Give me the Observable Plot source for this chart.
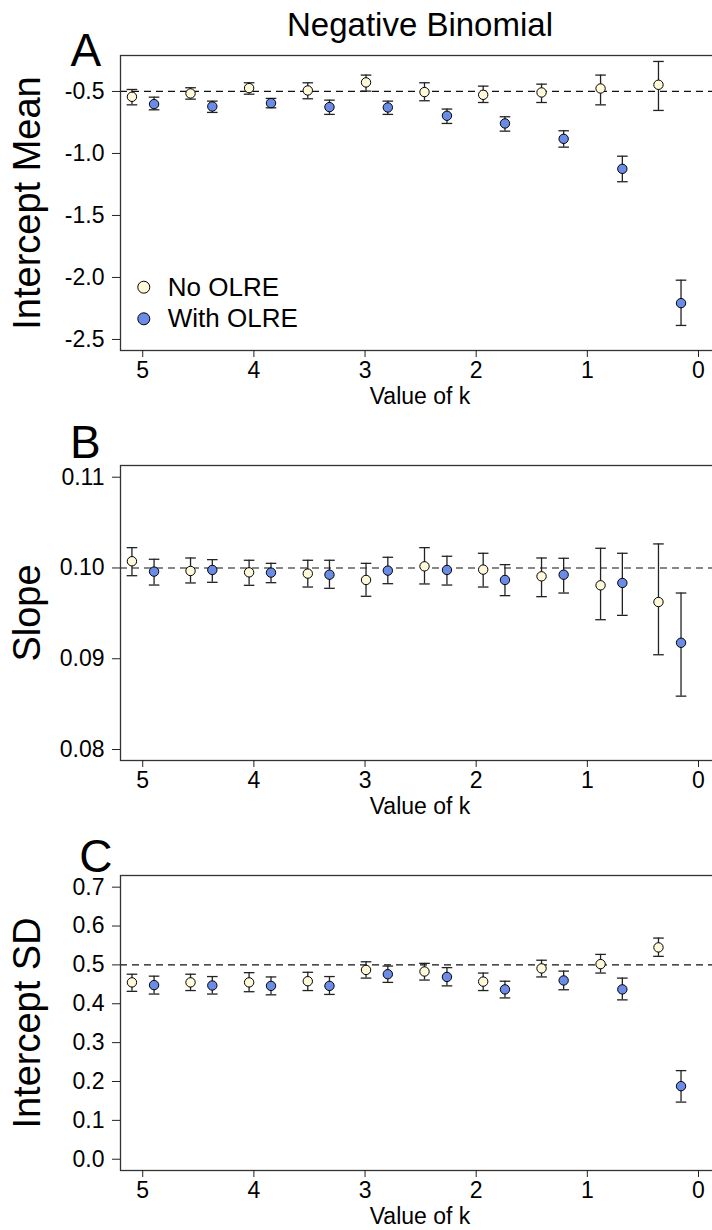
<!DOCTYPE html>
<html><head><meta charset="utf-8">
<script src="https://cdn.jsdelivr.net/npm/d3@7"></script>
<script src="https://cdn.jsdelivr.net/npm/@observablehq/plot@0.6"></script>
<style>
html,body{margin:0;background:#fff;overflow:hidden;}
#wrap{width:712px;height:1230px;overflow:hidden;background:#fff;}
#wrap svg{display:block;max-width:none !important;}
</style></head><body><div id="wrap"></div>
<script>
// ---------- data ----------
const seriesNames = ["No OLRE", "With OLRE"];
const seriesColors = ["#FFF9DA", "#6A8CE8"];
const xTicks = [5, 4, 3, 2, 1, 0];
const xLabel = "Value of k";
const title = "Negative Binomial";

const kNo   = [5.097, 4.570, 4.043, 3.515, 2.991, 2.465, 1.937, 1.412, 0.881, 0.360];
const kWith = [4.898, 4.374, 3.846, 3.320, 2.795, 2.263, 1.741, 1.213, 0.685, 0.157];

// Panel A: Intercept Mean
const aTicks = [-0.5, -1.0, -1.5, -2.0, -2.5];
const aNoMean = [-0.543, -0.516, -0.473, -0.492, -0.427, -0.505, -0.527, -0.508, -0.476, -0.446];
const aNoLo   = [-0.608, -0.562, -0.522, -0.559, -0.497, -0.575, -0.589, -0.589, -0.608, -0.653];
const aNoHi   = [-0.484, -0.470, -0.430, -0.430, -0.368, -0.430, -0.457, -0.441, -0.368, -0.258];
const aWMean  = [-0.602, -0.621, -0.594, -0.626, -0.629, -0.696, -0.758, -0.882, -1.124, -2.207];
const aWLo    = [-0.648, -0.669, -0.632, -0.685, -0.685, -0.758, -0.820, -0.949, -1.228, -2.387];
const aWHi    = [-0.546, -0.578, -0.556, -0.570, -0.578, -0.642, -0.704, -0.817, -1.022, -2.022];

// Panel B: Slope
const bTicks = [0.11, 0.10, 0.09, 0.08];
const bNoMean = [0.10074, 0.09967, 0.09952, 0.09938, 0.09868, 0.10018, 0.09982, 0.09908, 0.09809, 0.09625];
const bNoLo   = [0.09915, 0.09835, 0.09809, 0.09790, 0.09688, 0.09824, 0.09790, 0.09684, 0.09430, 0.09044];
const bNoHi   = [0.10224, 0.10110, 0.10085, 0.10085, 0.10051, 0.10224, 0.10162, 0.10110, 0.10217, 0.10265];
const bWMean  = [0.09960, 0.09978, 0.09949, 0.09926, 0.09971, 0.09978, 0.09868, 0.09926, 0.09835, 0.09176];
const bWLo    = [0.09812, 0.09842, 0.09838, 0.09776, 0.09827, 0.09812, 0.09695, 0.09724, 0.09478, 0.08588];
const bWHi    = [0.10096, 0.10092, 0.10051, 0.10085, 0.10118, 0.10129, 0.10037, 0.10107, 0.10162, 0.09724];

// Panel C: Intercept SD
const cTicks = [0.7, 0.6, 0.5, 0.4, 0.3, 0.2, 0.1, 0.0];
const cNoMean = [0.455, 0.455, 0.455, 0.458, 0.487, 0.483, 0.457, 0.491, 0.502, 0.545];
const cNoLo   = [0.432, 0.434, 0.431, 0.434, 0.466, 0.461, 0.434, 0.469, 0.479, 0.522];
const cNoHi   = [0.476, 0.476, 0.480, 0.481, 0.508, 0.504, 0.479, 0.512, 0.527, 0.569];
const cWMean  = [0.448, 0.447, 0.446, 0.446, 0.476, 0.469, 0.437, 0.460, 0.437, 0.188];
const cWLo    = [0.425, 0.425, 0.423, 0.424, 0.455, 0.446, 0.415, 0.436, 0.410, 0.147];
const cWHi    = [0.471, 0.470, 0.469, 0.470, 0.497, 0.493, 0.458, 0.484, 0.466, 0.228];

// ---------- drawing ----------
const FONT = "'Liberation Sans', Arial, Helvetica, sans-serif";
const capSymbol = {
  draw(ctx, size) {
    const w = Math.sqrt(size / Math.PI);
    ctx.moveTo(-w, 0);
    ctx.lineTo(w, 0);
  }
};

function rows(k, mean, lo, hi, s) {
  return k.map((kk, i) => ({k: kk, mean: mean[i], lo: lo[i], hi: hi[i], s}));
}

// frame runs past the right edge of the page (the reference is cropped there)
const W = 740, ML = 120, MR = 0;

function panel(cfg) {
  const data = [
    ...rows(kNo, cfg.noMean, cfg.noLo, cfg.noHi, seriesNames[0]),
    ...rows(kWith, cfg.wMean, cfg.wLo, cfg.wHi, seriesNames[1])
  ];
  const marks = [
    Plot.ruleY([cfg.ref], {stroke: "#111", strokeDasharray: "7,5", strokeWidth: 1.2}),
    Plot.ruleX(data, {x: "k", y1: "lo", y2: "hi", stroke: "#222", strokeWidth: 1.3}),
    Plot.dot(data, {x: "k", y: "lo", symbol: capSymbol, r: 5.3, fill: "none", stroke: "#222", strokeWidth: 1.3}),
    Plot.dot(data, {x: "k", y: "hi", symbol: capSymbol, r: 5.3, fill: "none", stroke: "#222", strokeWidth: 1.3}),
    Plot.dot(data, {x: "k", y: "mean", r: 4.7, fill: "s", stroke: "#000", strokeWidth: 1}),
    Plot.frame({stroke: "#333", strokeWidth: 1.3}),
    Plot.axisX({ticks: xTicks, tickSize: 7, tickPadding: 4, fontSize: 23, label: null, tickFormat: d => String(d), stroke: "#222"}),
    Plot.axisY({ticks: cfg.ticks, tickSize: 8, tickPadding: 8, fontSize: 23, label: null, tickFormat: cfg.fmt, stroke: "#222"}),
    Plot.text([xLabel], {text: d => d, frameAnchor: "bottom-left", textAnchor: "middle", lineAnchor: "middle", dy: 46, dx: 299.5, fontSize: 23, fill: "#000"}),
    Plot.text([cfg.ylabel], {text: d => d, frameAnchor: "left", textAnchor: "middle", lineAnchor: "middle", rotate: -90, dx: -92.5, fontSize: 38, fill: "#000"}),
    Plot.text([cfg.letter], {text: d => d, frameAnchor: "top-left", textAnchor: "start", lineAnchor: "middle", dx: cfg.ldx, dy: cfg.ldy, fontSize: 46, fill: "#000"})
  ];
  if (cfg.title) {
    marks.push(Plot.text([title], {text: d => d, frameAnchor: "top-left", textAnchor: "middle", lineAnchor: "middle", dy: -29.6, dx: 299.5, fontSize: 33, fill: "#000"}));
  }
  if (cfg.legend) {
    marks.push(
      Plot.dot([seriesNames[0]], {fill: d => d, frameAnchor: "bottom-left", dx: 23.3, dy: -63.3, r: 6, stroke: "#000", strokeWidth: 1}),
      Plot.dot([seriesNames[1]], {fill: d => d, frameAnchor: "bottom-left", dx: 23.3, dy: -31.7, r: 6, stroke: "#000", strokeWidth: 1}),
      Plot.text([seriesNames[0]], {text: d => d, frameAnchor: "bottom-left", textAnchor: "start", lineAnchor: "middle", dx: 47.3, dy: -63.3, fontSize: 26, fill: "#000"}),
      Plot.text([seriesNames[1]], {text: d => d, frameAnchor: "bottom-left", textAnchor: "start", lineAnchor: "middle", dx: 47.3, dy: -31.6, fontSize: 26, fill: "#000"})
    );
  }
  return Plot.plot({
    width: W,
    height: 410,
    marginLeft: ML,
    marginRight: MR,
    marginTop: 55,
    marginBottom: 60,
    x: {domain: [5.2, -0.378], axis: null},
    y: {domain: cfg.domain, axis: null},
    color: {domain: seriesNames, range: seriesColors},
    style: {fontFamily: FONT, color: "#000", background: "#fff", overflow: "visible", maxWidth: "none"},
    marks
  });
}

const wrap = document.getElementById("wrap");
wrap.appendChild(panel({
  letter: "A", ldx: -50, ldy: -4.7, title: true, legend: true,
  ylabel: "Intercept Mean", ref: -0.5, ticks: aTicks, fmt: d => d.toFixed(1),
  domain: [-2.589, -0.210],
  noMean: aNoMean, noLo: aNoLo, noHi: aNoHi, wMean: aWMean, wLo: aWLo, wHi: aWHi
}));
wrap.appendChild(panel({
  letter: "B", ldx: -50.5, ldy: -22.7,
  ylabel: "Slope", ref: 0.10, ticks: bTicks, fmt: d => d.toFixed(2),
  domain: [0.07879, 0.11129],
  noMean: bNoMean, noLo: bNoLo, noHi: bNoHi, wMean: bWMean, wLo: bWLo, wHi: bWHi
}));
wrap.appendChild(panel({
  letter: "C", ldx: -41.3, ldy: -18.5,
  ylabel: "Intercept SD", ref: 0.5, ticks: cTicks, fmt: d => d.toFixed(1),
  domain: [-0.029, 0.730],
  noMean: cNoMean, noLo: cNoLo, noHi: cNoHi, wMean: cWMean, wLo: cWLo, wHi: cWHi
}));
</script>
</body></html>
